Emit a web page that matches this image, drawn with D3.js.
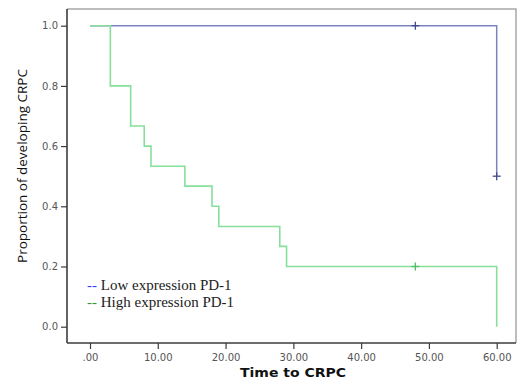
<!DOCTYPE html>
<html>
<head>
<meta charset="utf-8">
<script src="https://cdn.jsdelivr.net/npm/d3@7"></script>
<style>
  body { margin: 0; background: #fff; }
  svg { display: block; }
</style>
</head>
<body>
<div id="chart"></div>
<script>
// Kaplan-Meier step data
const lowTimes = [0, 60];
const lowSurv = [1.0, 0.5];
const lowCensor = [[48, 1.0], [60, 0.5]];

const highTimes = [0, 3, 6, 8, 9, 14, 18, 19, 28, 29, 60];
const highSurv = [1.0, 0.8, 0.667, 0.6, 0.533, 0.467, 0.4, 0.333, 0.267, 0.2, 0.0];
const highCensor = [[48, 0.2]];

const xTicks = [0, 10, 20, 30, 40, 50, 60];
const yTicks = [0, 0.2, 0.4, 0.6, 0.8, 1.0];
const legendLabels = ["Low expression PD-1", "High expression PD-1"];

const width = 518, height = 381;
const frame = {left: 67, right: 516, top: 9, bottom: 343};

const svg = d3.select('#chart')
  .append('svg')
  .attr('width', width)
  .attr('height', height);

const x = d3.scaleLinear().domain([0, 60]).range([90, 496.7]);
const y = d3.scaleLinear().domain([0, 1]).range([326.7, 25.7]);

// frame (top/right light, left/bottom are axes)
svg.append('path')
  .attr('d', `M${frame.left},${frame.top}H${frame.right}V${frame.bottom}`)
  .attr('fill', 'none')
  .attr('stroke', '#a8a8a8')
  .attr('stroke-width', 1.5);

const yAxis = svg.append('g')
  .attr('transform', `translate(${frame.left},0)`)
  .call(d3.axisLeft(y).tickValues(yTicks).tickFormat(d3.format('.1f')).tickSize(6).tickPadding(3));
yAxis.select('.domain').attr('d', `M0,${frame.top}V${frame.bottom}`);

const xAxis = svg.append('g')
  .attr('transform', `translate(0,${frame.bottom})`)
  .call(d3.axisBottom(x).tickValues(xTicks)
    .tickFormat(d => d === 0 ? '.00' : d3.format('.2f')(d)).tickSize(6).tickPadding(5));
xAxis.select('.domain').attr('d', `M${frame.left},0H${frame.right}`);

svg.selectAll('.domain')
  .attr('stroke', '#3c3c3c')
  .attr('stroke-width', 1.6);
svg.selectAll('.tick line')
  .attr('stroke', '#3c3c3c')
  .attr('stroke-width', 1.2);
svg.selectAll('.tick text')
  .attr('fill', '#555')
  .attr('font-family', 'DejaVu Sans, Verdana, sans-serif')
  .attr('font-size', 10);

// step curves
function stepPath(times, surv, end) {
  const pts = times.map((t, i) => [t, surv[i]]);
  if (end !== undefined) pts.push([end, surv[surv.length - 1]]);
  return d3.line().x(d => x(d[0])).y(d => y(d[1])).curve(d3.curveStepAfter)(pts);
}

svg.append('path')
  .attr('d', stepPath(lowTimes, lowSurv))
  .attr('fill', 'none')
  .attr('stroke', '#7c84bf')
  .attr('stroke-width', 1.5);

svg.append('path')
  .attr('d', stepPath(highTimes, highSurv))
  .attr('fill', 'none')
  .attr('stroke', '#86e09a')
  .attr('stroke-width', 1.6);

function censorMarks(data, color) {
  const g = svg.append('g').attr('stroke', color).attr('stroke-width', 1.3);
  g.selectAll('line.v').data(data).enter().append('line')
    .attr('x1', d => x(d[0])).attr('x2', d => x(d[0]))
    .attr('y1', d => y(d[1]) - 4).attr('y2', d => y(d[1]) + 4);
  g.selectAll('line.h').data(data).enter().append('line')
    .attr('x1', d => x(d[0]) - 4).attr('x2', d => x(d[0]) + 4)
    .attr('y1', d => y(d[1])).attr('y2', d => y(d[1]));
}
censorMarks(lowCensor, '#3f4a8c');
censorMarks(highCensor, '#4fbf66');

// legend
const legendColors = ['#3340ff', '#2f9a35'];
const legend = svg.append('g')
  .attr('font-family', 'Liberation Serif, Times New Roman, serif')
  .attr('font-size', 15);
legendLabels.forEach((lab, i) => {
  const t = legend.append('text')
    .attr('x', 87)
    .attr('y', 290 + i * 16.5);
  t.append('tspan').attr('fill', legendColors[i]).text('-- ');
  t.append('tspan').attr('fill', '#222').text(lab);
});

// axis titles
svg.append('text')
  .attr('transform', 'translate(27,166) rotate(-90)')
  .attr('text-anchor', 'middle')
  .attr('font-family', 'Open Sans, Noto Sans, sans-serif')
  .attr('font-size', 12.5)
  .attr('fill', '#111')
  .attr('textLength', 194)
  .attr('lengthAdjust', 'spacingAndGlyphs')
  .text('Proportion of developing CRPC');

svg.append('text')
  .attr('x', 293)
  .attr('y', 377)
  .attr('text-anchor', 'middle')
  .attr('font-family', 'DejaVu Sans, Verdana, sans-serif')
  .attr('font-weight', 'bold')
  .attr('font-size', 12)
  .attr('fill', '#111')
  .attr('textLength', 106)
  .attr('lengthAdjust', 'spacingAndGlyphs')
  .text('Time to CRPC');
</script>
</body>
</html>
